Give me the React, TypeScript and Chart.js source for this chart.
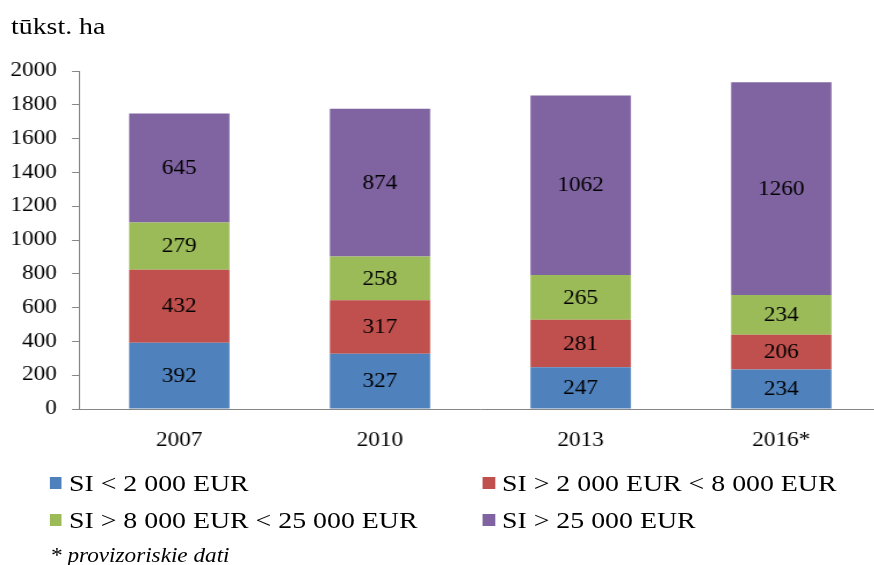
import React, { useEffect, useRef } from "react";
import { Chart, registerables } from "chart.js";

Chart.register(...registerables);

const categories = ["2007", "2010", "2013", "2016*"];
const seriesNames = [
  "SI < 2 000 EUR",
  "SI > 2 000 EUR < 8 000 EUR",
  "SI > 8 000 EUR < 25 000 EUR",
  "SI > 25 000 EUR",
];
const below2000 = [392, 327, 247, 234];
const from2000to8000 = [432, 317, 281, 206];
const from8000to25000 = [279, 258, 265, 234];
const above25000 = [645, 874, 1062, 1260];
const seriesColors = ["#4F81BD", "#C0504D", "#9BBB59", "#8064A2"];
const yMin = 0;
const yMax = 2000;
const yStep = 200;
const unitLabel = "tūkst. ha";
const footnote = "* provizoriskie dati";

const FONT = "'Liberation Serif', 'Times New Roman', serif";
const K = 1.16; // horizontal stretch of the original picture

const valueLabels = {
  id: "valueLabels",
  afterDatasetsDraw(chart: any) {
    const ctx = chart.ctx;
    ctx.save();
    ctx.font = `20px ${FONT}`;
    ctx.fillStyle = "#000";
    ctx.textAlign = "center";
    ctx.textBaseline = "middle";
    chart.data.datasets.forEach((ds: any, di: number) => {
      const meta = chart.getDatasetMeta(di);
      meta.data.forEach((el: any, i: number) => {
        const p = el.getProps(["x", "y", "base"], true);
        ctx.fillText(String(ds.data[i]), p.x, (p.y + p.base) / 2 + 1);
      });
    });
    ctx.restore();
  },
};

export default function App() {
  const ref = useRef<HTMLCanvasElement | null>(null);
  const canvasW = Math.round(882 / K);

  useEffect(() => {
    if (!ref.current) return;
    const series = [below2000, from2000to8000, from8000to25000, above25000];
    const chart = new Chart(ref.current, {
      type: "bar",
      data: {
        labels: categories,
        datasets: series.map((d, i) => ({
          label: seriesNames[i],
          data: d,
          backgroundColor: seriesColors[i],
          borderWidth: 0,
          categoryPercentage: 1,
          barPercentage: 0.5,
        })),
      },
      options: {
        responsive: false,
        animation: false,
        layout: { padding: { top: 71, left: 0, right: 0, bottom: 0 } },
        plugins: { legend: { display: false }, tooltip: { enabled: false } },
        scales: {
          x: {
            stacked: true,
            grid: { display: false },
            border: { display: true, color: "#868686", width: 1 },
            ticks: { color: "#000", font: { family: FONT, size: 20 }, padding: 12 },
            afterFit: (s: any) => { s.height = 41; },
          },
          y: {
            stacked: true,
            min: yMin,
            max: yMax,
            grid: { display: true, drawOnChartArea: false, drawTicks: true, tickLength: 6, color: "#868686" },
            border: { display: true, color: "#868686", width: 1 },
            ticks: {
              stepSize: yStep,
              color: "#000",
              font: { family: FONT, size: 20 },
              padding: 13,
              callback: (v: any) => String(v),
            },
            afterFit: (s: any) => { s.width = 79 / K; },
          },
        },
      },
      plugins: [valueLabels],
    });
    return () => chart.destroy();
  }, []);

  const legendItem = (i: number) => (
    <div style={{ display: "flex", alignItems: "center", whiteSpace: "nowrap" }}>
      <span style={{ display: "inline-block", width: 12 / K, height: 12, background: seriesColors[i], marginRight: 7 / K }} />
      <span>{seriesNames[i]}</span>
    </div>
  );

  return (
    <div style={{ position: "fixed", left: 0, top: 0, width: 874, height: 565, overflow: "hidden", background: "#fff" }}>
      <div style={{ position: "absolute", left: 0, top: 0, width: canvasW, height: 565, transform: `scaleX(${K})`, transformOrigin: "0 0", fontFamily: FONT, color: "#000" }}>
        <div style={{ position: "absolute", left: 11 / K, top: 11, fontSize: 24, lineHeight: "30px" }}>{unitLabel}</div>
        <canvas ref={ref} width={canvasW} height={450} style={{ position: "absolute", left: 0, top: 0, width: canvasW, height: 450 }} />
        <div style={{ position: "absolute", left: 50 / K, top: 469, fontSize: 24, lineHeight: "28px" }}>{legendItem(0)}</div>
        <div style={{ position: "absolute", left: 483 / K, top: 469, fontSize: 24, lineHeight: "28px" }}>{legendItem(1)}</div>
        <div style={{ position: "absolute", left: 50 / K, top: 506, fontSize: 24, lineHeight: "28px" }}>{legendItem(2)}</div>
        <div style={{ position: "absolute", left: 483 / K, top: 506, fontSize: 24, lineHeight: "28px" }}>{legendItem(3)}</div>
        <div style={{ position: "absolute", left: 50 / K, top: 544, fontSize: 20, lineHeight: "22px", fontStyle: "italic" }}>{footnote}</div>
      </div>
    </div>
  );
}
